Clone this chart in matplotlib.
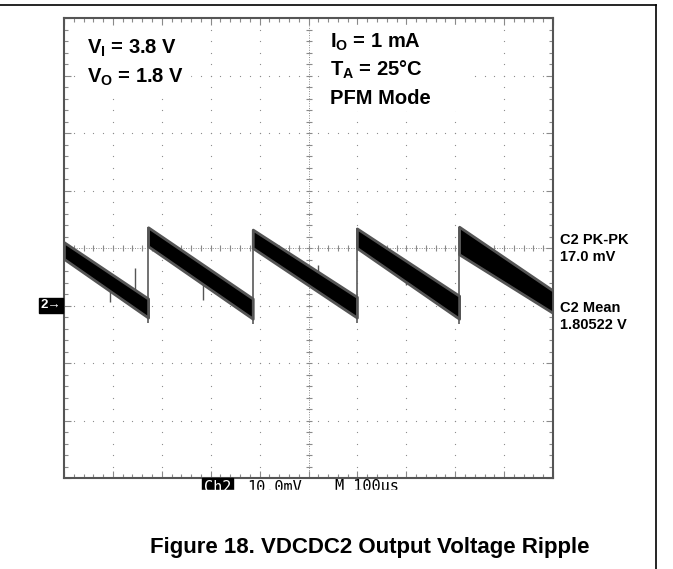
import numpy as np
import matplotlib.pyplot as plt
from matplotlib.patches import Rectangle
from matplotlib.lines import Line2D

plt.rcParams['font.family'] = 'Liberation Sans'
plt.rcParams['mathtext.fontset'] = 'custom'
plt.rcParams['mathtext.rm'] = 'Liberation Sans:bold'
plt.rcParams['mathtext.it'] = 'Liberation Sans:bold'
plt.rcParams['mathtext.bf'] = 'Liberation Sans:bold'

# ripple trace, time in us, voltage in mV relative to screen centre
t_start = [0, 172, 386, 599, 808]
t_end = [172, 386, 599, 808, 1000]
hi_start = [1.0, 3.6, 3.2, 3.4, 3.7]
lo_start = [-1.9, 0.3, 0.0, 0.0, -1.1]
hi_end = [-8.8, -8.8, -8.5, -8.3, -7.4]
lo_end = [-12.1, -12.3, -12.1, -12.3, -11.3]

# a few downward spikes on the trace
spike_t = [94, 145, 284, 520, 700]
spike_lo = [-9.4, -7.5, -9.0, -7.0, -6.5]

px_w, px_h = 673, 569

fig = plt.figure(figsize=(6.73, 5.69), dpi=100)
ax = fig.add_axes([64 / px_w, 1 - 478 / px_h, 489 / px_w, 460 / px_h])
ax.set_xlim(0, 1000)
ax.set_ylim(-40, 40)

# scope graticule
grid_c = '#8a8a8a'
gx = np.arange(100, 1000, 100)
gy = np.arange(-30, 31, 10)
X, Y = np.meshgrid(gx, np.arange(-40, 41, 2))
ax.scatter(X.ravel(), Y.ravel(), s=0.8, color=grid_c, zorder=1, lw=0)
X, Y = np.meshgrid(np.arange(0, 1001, 20), gy)
ax.scatter(X.ravel(), Y.ravel(), s=0.8, color=grid_c, zorder=1, lw=0)
ax.axhline(0, color=grid_c, lw=0.7, ls=(0, (1, 1.5)), zorder=1)
ax.axvline(500, color=grid_c, lw=0.7, ls=(0, (1, 1.5)), zorder=1)
ax.plot(np.arange(0, 1001, 20), np.zeros(51), marker='|', ms=5, ls='none',
        color=grid_c, mew=0.8, zorder=1)
ax.plot(np.full(41, 500), np.arange(-40, 41, 2), marker='_', ms=5, ls='none',
        color=grid_c, mew=0.8, zorder=1)

ax.set_xticks(np.arange(0, 1001, 100))
ax.set_xticks(np.arange(0, 1001, 20), minor=True)
ax.set_yticks(np.arange(-40, 41, 10))
ax.set_yticks(np.arange(-40, 41, 2), minor=True)
ax.tick_params(which='both', direction='in', top=True, right=True,
               labelbottom=False, labelleft=False, color=grid_c, width=0.8)
ax.tick_params(which='major', length=5)
ax.tick_params(which='minor', length=3)
for s in ax.spines.values():
    s.set_color('#555555')
    s.set_linewidth(1.5)

# trace
for i in range(len(t_start)):
    ax.fill_between([t_start[i], t_end[i]], [lo_start[i], lo_end[i]],
                    [hi_start[i], hi_end[i]], facecolor='black',
                    edgecolor='#555555', lw=2.0, zorder=4)
ax.vlines(t_start[1:], np.array(lo_end[:-1]) - 1.0, hi_start[1:],
          color='#666666', lw=1.3, zorder=3)
ax.vlines(spike_t, spike_lo, np.array(spike_lo) + 4, color='#555555',
          lw=1.0, zorder=3)

# white boxes behind the condition labels
ax.add_patch(Rectangle((27, 26.3), 231, 11.6, color='white', zorder=3))
ax.add_patch(Rectangle((529, 24.0), 300, 14.8, color='white', zorder=3))

# channel 2 reference marker
ax.annotate('2\u2192', xy=(0, -10), xycoords=('axes fraction', 'data'),
            xytext=(-2, 0), textcoords='offset points', ha='right', va='center',
            color='white', fontsize=9.5, fontweight='bold',
            bbox=dict(boxstyle='square,pad=0.15', fc='black', ec='black'))


def fx(x):
    return x / px_w


def fy(y):
    return 1 - y / px_h


bold = dict(fontweight='bold', va='center', ha='left')
cond_fs = 14.5
fig.text(fx(87), fy(48), r'V$_\mathrm{I}$ = 3.8 V', fontsize=cond_fs, **bold)
fig.text(fx(87), fy(77), r'V$_\mathrm{O}$ = 1.8 V', fontsize=cond_fs, **bold)
fig.text(fx(330), fy(42), r'I$_\mathrm{O}$ = 1 mA', fontsize=cond_fs, **bold)
fig.text(fx(330), fy(70), r'T$_\mathrm{A}$ = 25°C', fontsize=cond_fs, **bold)
fig.text(fx(330), fy(98), 'PFM Mode', fontsize=cond_fs, **bold)

fig.text(fx(560), fy(240), 'C2 PK-PK', fontsize=10.5, **bold)
fig.text(fx(560), fy(257), '17.0 mV', fontsize=10.5, **bold)
fig.text(fx(560), fy(308), 'C2 Mean', fontsize=10.5, **bold)
fig.text(fx(560), fy(325), '1.80522 V', fontsize=10.5, **bold)

# scope status line (cut off at the bottom)
mono = dict(family='DejaVu Sans Mono', fontsize=11, va='center', ha='left')
fig.text(fx(204), fy(487), 'Ch2', color='white',
         bbox=dict(boxstyle='square,pad=0.1', fc='black', ec='black'), **mono)
fig.text(fx(247), fy(487), '10.0mV', **mono)
fig.text(fx(335), fy(487), 'M 100\u00b5s', **mono)
fig.add_artist(Rectangle((fx(150), fy(535)), 450 / px_w, 45 / px_h,
                         transform=fig.transFigure, color='white', zorder=10))

fig.text(fx(370), fy(548), 'Figure 18. VDCDC2 Output Voltage Ripple',
         fontsize=16, fontweight='bold', ha='center', va='center')

# outer cell border
fig.add_artist(Line2D([0, fx(656)], [fy(5), fy(5)], transform=fig.transFigure,
                      color='black', lw=1.2))
fig.add_artist(Line2D([fx(656), fx(656)], [fy(5), 0], transform=fig.transFigure,
                      color='black', lw=1.2))

fig.savefig('out.png', dpi=100)
